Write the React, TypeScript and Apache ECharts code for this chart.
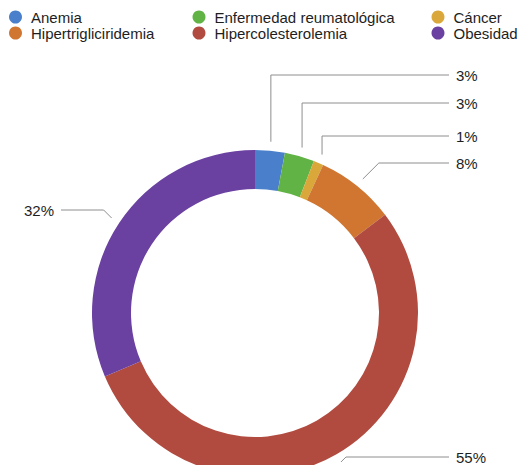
import { useEffect, useRef } from 'react';
import * as echarts from 'echarts';

// Data: share of each condition, in percent
const categories = [
  'Anemia',
  'Enfermedad reumatológica',
  'Cáncer',
  'Hipertrigliciridemia',
  'Hipercolesterolemia',
  'Obesidad',
];
const percentages = [3, 3, 1, 8, 55, 32];
const sliceColors = ['#4A80CB', '#62B345', '#D9A73A', '#D07630', '#B14A3F', '#6A40A0'];

// Legend is laid out in three columns of two entries
const legendColumns = [
  ['Anemia', 'Hipertrigliciridemia'],
  ['Enfermedad reumatológica', 'Hipercolesterolemia'],
  ['Cáncer', 'Obesidad'],
];

// Layout constants
const CX = 255;
const CY = 313;
const R_OUT = 163;
const R_IN = 124;
const LINE_GAP = 9; // leader line starts this far outside the ring
const LINE_REACH = 194; // horizontal distance from centre to end of leader lines
const TEXT_GAP = 7;
const labelY = [75, 103, 136, 163, 457, 210];
const legendLefts = [4, 187.5, 426.5];

const FONT = 'Helvetica, "Liberation Sans", Arial, sans-serif';

export default function App() {
  const ref = useRef<HTMLDivElement>(null);

  useEffect(() => {
    if (!ref.current) return;
    const chart = echarts.init(ref.current, null, { renderer: 'svg' });

    const data = categories.map((name, i) => ({
      name,
      value: percentages[i],
      itemStyle: { color: sliceColors[i] },
    }));

    chart.setOption({
      animation: false,
      backgroundColor: '#ffffff',
      legend: legendColumns.map((col, i) => ({
        data: col,
        orient: 'vertical',
        left: legendLefts[i],
        top: 4,
        padding: [5, 5, 5, 5],
        icon: 'circle',
        itemWidth: 21,
        itemHeight: 13,
        itemGap: 0,
        selectedMode: false,
        textStyle: { fontSize: 15, lineHeight: 16, color: '#1e1e1e', fontFamily: FONT },
      })),
      series: [
        {
          type: 'pie',
          center: [CX, CY],
          radius: [R_IN, R_OUT],
          startAngle: 90,
          clockwise: true,
          avoidLabelOverlap: false,
          data,
          label: {
            show: true,
            position: 'outside',
            formatter: '{c}%',
            fontSize: 15,
            color: '#1e1e1e',
            fontFamily: FONT,
          },
          labelLine: {
            show: true,
            length: 10,
            length2: 10,
            lineStyle: { color: '#8e8e8e', width: 1 },
          },
          labelLayout: (p: any) => {
            const pts = p.labelLinePoints;
            if (!pts) return {};
            const [x0, y0] = pts[0];
            const dx = x0 - CX;
            const dy = y0 - CY;
            const len = Math.hypot(dx, dy) || 1;
            const ux = dx / len;
            const uy = dy / len;
            const sx = CX + ux * (R_OUT + LINE_GAP);
            const sy = CY + uy * (R_OUT + LINE_GAP);
            const side = ux < 0 ? -1 : 1;
            const ty = labelY[p.dataIndex];
            const rise = sy - ty;
            const ex = Math.abs(ux) > 0.45 ? sx + side * Math.abs(rise) : sx;
            const endX = CX + side * LINE_REACH;
            return {
              x: endX + side * TEXT_GAP,
              y: ty,
              align: side > 0 ? 'left' : 'right',
              verticalAlign: 'middle',
              labelLinePoints: [
                [sx, sy],
                [ex, ty],
                [endX, ty],
              ],
            };
          },
          emphasis: { disabled: true },
        },
      ],
    });

    return () => chart.dispose();
  }, []);

  return (
    <div
      ref={ref}
      style={{ position: 'absolute', left: 0, top: 0, width: 520, height: 465 }}
    />
  );
}
